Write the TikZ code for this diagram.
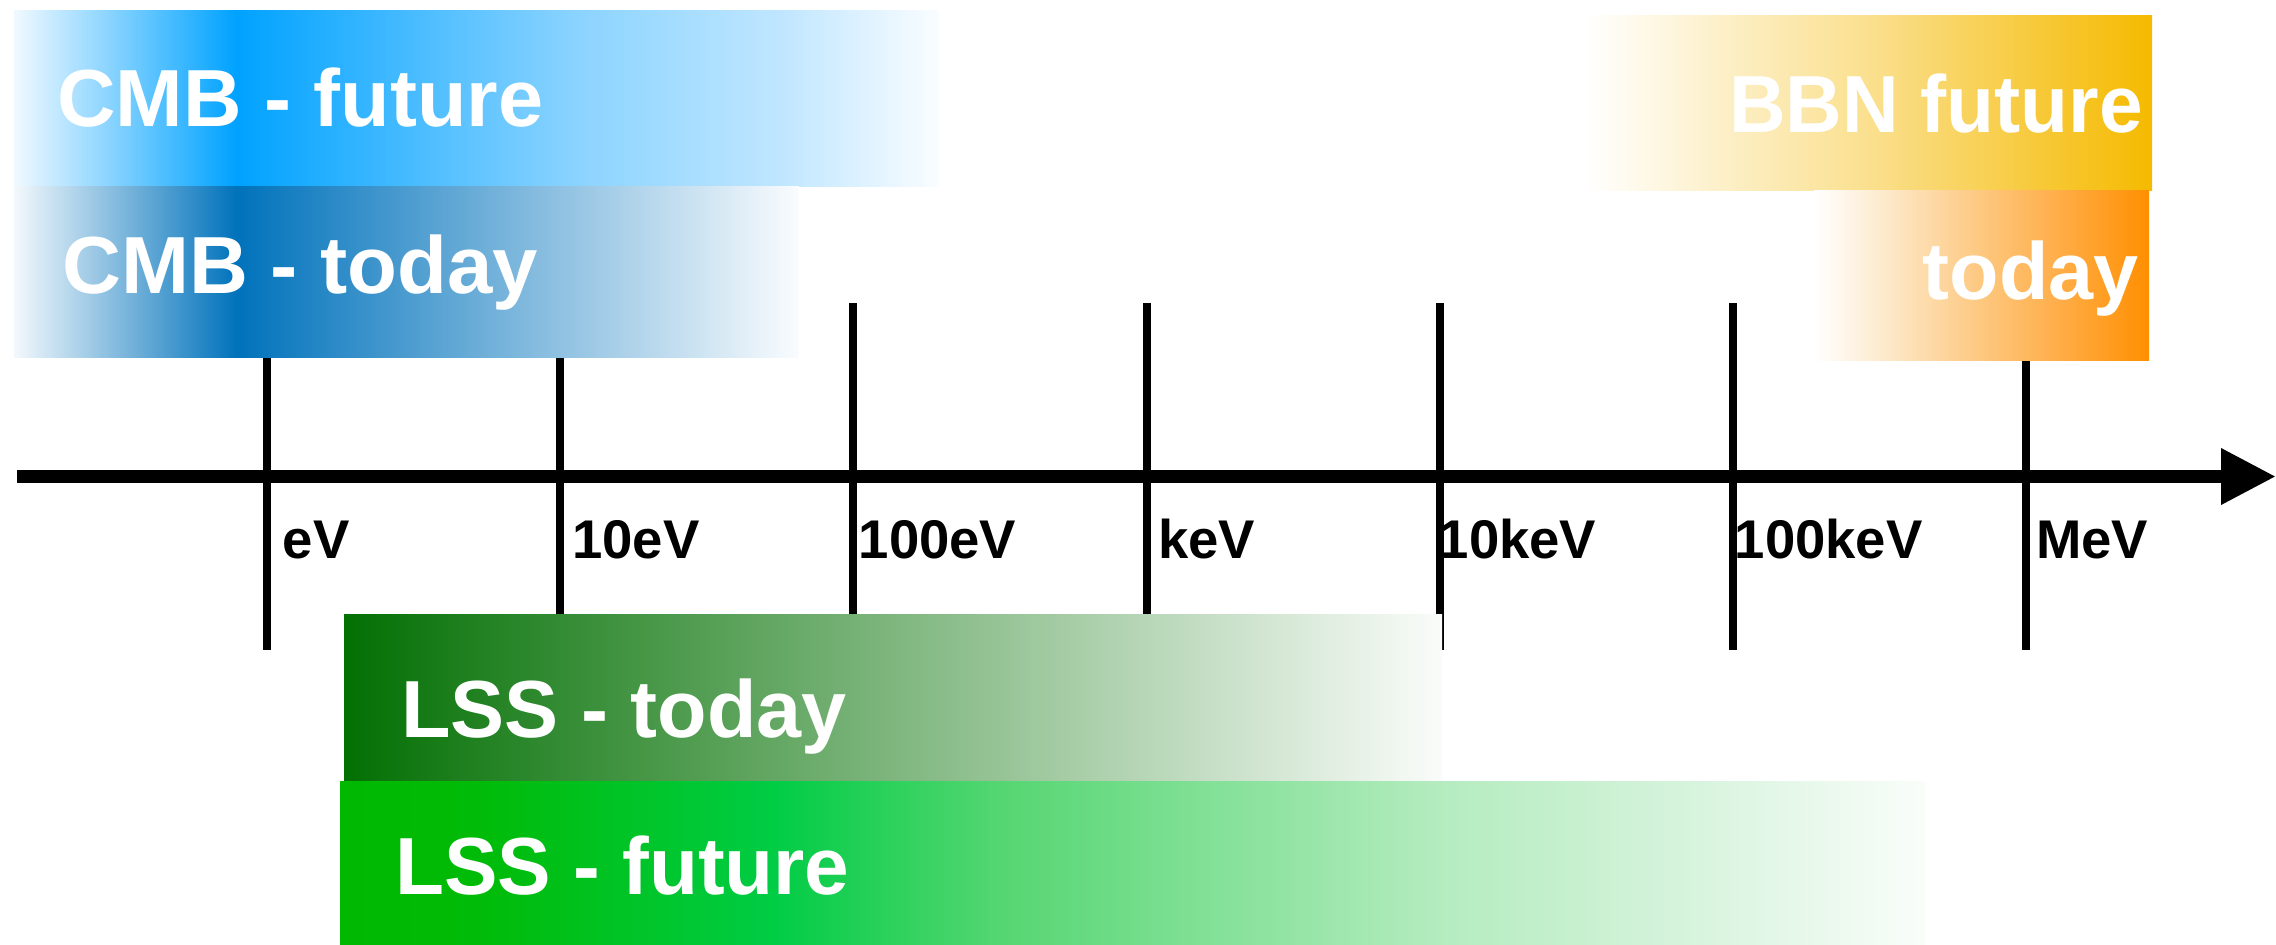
\documentclass[tikz,border=0pt]{standalone}
\usepackage{fontspec}
\setmainfont{Liberation Sans}
\usetikzlibrary{arrows.meta}

\definecolor{cmbFa}{HTML}{F0F9FF}
\definecolor{cmbFb}{HTML}{00A2FF}
\definecolor{cmbFm}{HTML}{8AD3FF}
\definecolor{cmbFn}{HTML}{C0E6FF}
\definecolor{cmbFe}{HTML}{FAFDFF}
\definecolor{cmbTa}{HTML}{F3F8FC}
\definecolor{cmbTb}{HTML}{0072BB}
\definecolor{cmbTe}{HTML}{FAFCFE}
\definecolor{bbnFb}{HTML}{F5BA00}
\definecolor{bbnFm}{HTML}{FADF8C}
\definecolor{bbnTb}{HTML}{FF8F00}
\definecolor{bbnTc}{HTML}{FDEBCF}
\definecolor{bbnTd}{HTML}{FDC880}
\definecolor{bbnTf}{HTML}{FFAD48}
\definecolor{lssTa}{HTML}{037003}
\definecolor{lssTb}{HTML}{FAFCFA}
\definecolor{lssFa}{HTML}{00B800}
\definecolor{lssFb}{HTML}{00BB08}
\definecolor{lssFc}{HTML}{00CC44}
\definecolor{lssFd}{HTML}{55D672}
\definecolor{lssFe}{HTML}{B5ECC0}
\definecolor{lssFf}{HTML}{D8F4DE}
\definecolor{lssFg}{HTML}{FAFDFA}

% 25bp = left edge of bar, 75bp = right edge of bar
\pgfdeclarehorizontalshading{cmbFshade}{100bp}{color(0bp)=(cmbFa); color(25bp)=(cmbFa); color(37bp)=(cmbFb); color(55.3bp)=(cmbFm); color(66.5bp)=(cmbFn); color(75bp)=(cmbFe); color(100bp)=(cmbFe)}
\pgfdeclarehorizontalshading{cmbTshade}{100bp}{color(0bp)=(cmbTa); color(25bp)=(cmbTa); color(39.2bp)=(cmbTb); color(75bp)=(cmbTe); color(100bp)=(cmbTe)}
\pgfdeclarehorizontalshading{bbnFshade}{100bp}{color(0bp)=(white); color(25bp)=(white); color(50.5bp)=(bbnFm); color(75bp)=(bbnFb); color(100bp)=(bbnFb)}
\pgfdeclarehorizontalshading{bbnTshade}{100bp}{color(0bp)=(white); color(25bp)=(white); color(34.85bp)=(bbnTc); color(49.8bp)=(bbnTd); color(61.6bp)=(bbnTf); color(75bp)=(bbnTb); color(100bp)=(bbnTb)}
\pgfdeclarehorizontalshading{lssTshade}{100bp}{color(0bp)=(lssTa); color(25bp)=(lssTa); color(75bp)=(lssTb); color(100bp)=(lssTb)}
\pgfdeclarehorizontalshading{lssFshade}{100bp}{color(0bp)=(lssFa); color(25bp)=(lssFa); color(29.4bp)=(lssFb); color(38.6bp)=(lssFc); color(45.8bp)=(lssFd); color(59.8bp)=(lssFe); color(67.9bp)=(lssFf); color(75bp)=(lssFg); color(100bp)=(lssFg)}

\tikzset{
  bar/.style={rectangle, draw=none, shade, inner sep=0pt, outer sep=0pt, anchor=north west},
  bigtext/.style={text=white, inner sep=0pt, font=\bfseries\fontsize{81}{81}\selectfont},
  unitlabel/.style={text=black, inner sep=0pt, anchor=base west, font=\bfseries\fontsize{54.5}{54.5}\selectfont},
  tickline/.style={line width=8pt, black},
  axisline/.style={line width=13pt, black, -{Triangle[length=55pt,width=53pt]}}
}

\begin{document}
\begin{tikzpicture}[x=1pt,y=-1pt]
\useasboundingbox (0,0) rectangle (2276,945);

% ticks
\foreach \x in {267,560,853,1147,1440,1733,2026}{
  \draw[tickline] (\x,303) -- (\x,650);
}

% axis
\coordinate (axstart) at (17,476.5);
\coordinate (axend) at (2276,476.5);
\draw[axisline] (axstart) -- (axend);

% unit labels
\node[unitlabel] (leV)    at (282.5,558) {eV};
\node[unitlabel] (l10eV)  at (572,558) {10eV};
\node[unitlabel] (l100eV) at (858.5,558) {100eV};
\node[unitlabel] (lkeV)   at (1158,558) {keV};
\node[unitlabel] (l10keV) at (1438.5,558) {10keV};
\node[unitlabel] (l100keV) at (1734.5,558) {100keV};
\node[unitlabel] (lMeV)   at (2036,558) {MeV};

% bars
\node[bar, shading=cmbFshade, minimum width=925pt, minimum height=176pt] (cmbf) at (14,10) {};
\node[bar, shading=cmbTshade, minimum width=785pt, minimum height=171pt] (cmbt) at (14,186) {};
\node[bar, shading=bbnFshade, minimum width=567pt, minimum height=175pt] (bbnf) at (1585,15) {};
\node[bar, shading=bbnTshade, minimum width=335pt, minimum height=170pt] (bbnt) at (1814,190) {};
\node[bar, shading=lssTshade, minimum width=1098pt, minimum height=167pt] (lsst) at (344,614) {};
\node[bar, shading=lssFshade, minimum width=1586pt, minimum height=164pt] (lssf) at (340,781) {};

% bar texts
\node[bigtext, anchor=base west] (tcmbf) at (57,126) {CMB - future};
\node[bigtext, anchor=base west] (tcmbt) at (62,293) {\scalebox{1.008}[1]{CMB - today}};
\node[bigtext, anchor=base east] (tbbnf) at (2143,132) {\scalebox{0.968}[1]{BBN future}};
\node[bigtext, anchor=base east] (tbbnt) at (2139,299) {today};
\node[bigtext, anchor=base west] (tlsst) at (401,737) {LSS - today};
\node[bigtext, anchor=base west] (tlssf) at (395,894) {\scalebox{0.99}[1]{LSS - future}};
\end{tikzpicture}
\end{document}
